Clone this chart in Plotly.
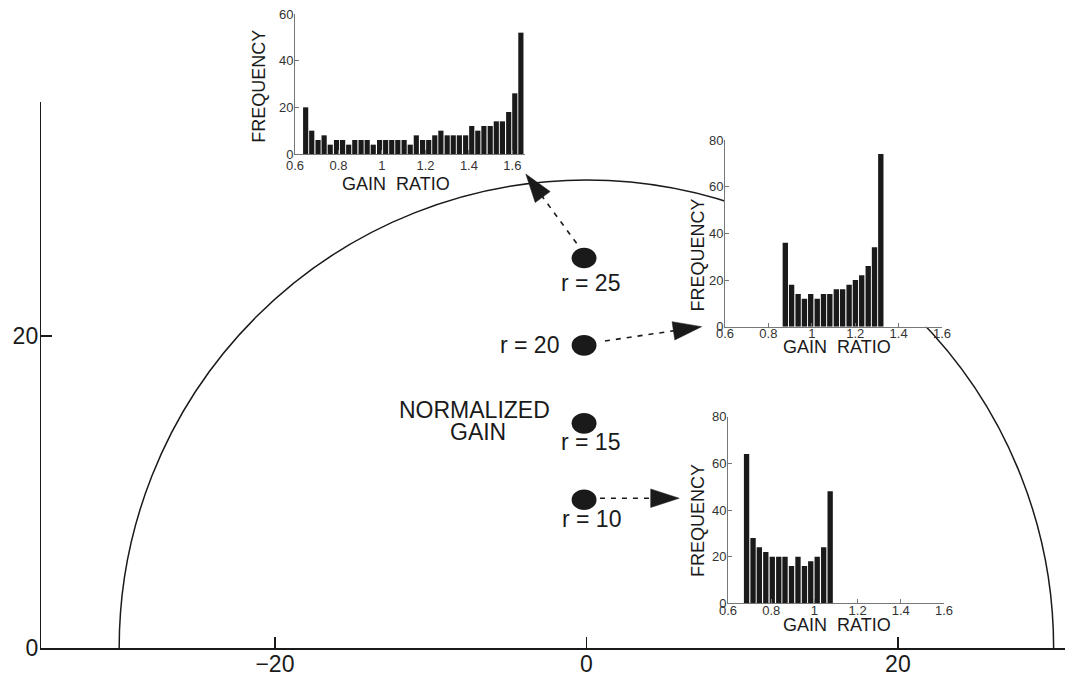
import plotly.graph_objects as go

W, H = 1065, 677
FONT = "Liberation Sans, Arial, Helvetica, sans-serif"
INK = "#1a1a1a"

# ---------------- data ----------------
main_x_ticks = [-20, 0, 20]
main_y_ticks = [0, 20]
circle_radius = 30

dot_labels = ["r = 25", "r = 20", "r = 15", "r = 10"]
dot_x = [-0.15, -0.15, -0.15, -0.15]
dot_y = [25.0, 19.4, 14.4, 9.5]

# dashed arrows (start -> tip), main-axis units
arrow_x0 = [-0.63, 1.19, 0.87]
arrow_y0 = [25.94, 19.68, 9.60]
arrow_x1 = [-3.89, 7.40, 5.96]
arrow_y1 = [30.38, 20.60, 9.60]

gain_ticks = [0.6, 0.8, 1.0, 1.2, 1.4, 1.6]

r25_centers = [0.649, 0.677, 0.706, 0.734, 0.762, 0.791, 0.819, 0.847, 0.875,
               0.904, 0.932, 0.960, 0.989, 1.017, 1.045, 1.073, 1.102, 1.130,
               1.158, 1.187, 1.215, 1.243, 1.271, 1.300, 1.328, 1.356, 1.385,
               1.413, 1.441, 1.469, 1.498, 1.526, 1.554, 1.583, 1.611, 1.639]
r25_counts = [20, 10, 6, 8, 4, 6, 6, 4, 6, 6, 6, 4, 6, 6, 6, 6, 6, 4,
              8, 6, 6, 8, 10, 8, 8, 8, 8, 12, 10, 12, 12, 14, 14, 18, 26, 52]

r20_centers = [0.878, 0.907, 0.937, 0.966, 0.995, 1.025, 1.054, 1.083,
               1.113, 1.142, 1.172, 1.201, 1.230, 1.260, 1.289, 1.318]
r20_counts = [36, 18, 14, 12, 14, 12, 14, 14, 16, 16, 18, 20, 22, 26, 34, 74]

r10_centers = [0.686, 0.716, 0.745, 0.775, 0.805, 0.835, 0.864,
               0.894, 0.924, 0.954, 0.983, 1.013, 1.043, 1.073]
r10_counts = [64, 28, 24, 22, 20, 20, 20, 16, 20, 16, 18, 20, 24, 48]


def px(x):
    return x / W


def py(y):
    return 1 - y / H


fig = go.Figure()

# ---------------- arrows ----------------
for i in range(len(arrow_x0)):
    fig.add_trace(go.Scatter(
        x=[arrow_x0[i], arrow_x1[i]], y=[arrow_y0[i], arrow_y1[i]],
        xaxis="x", yaxis="y", mode="lines+markers",
        line=dict(color=INK, width=1.6, dash="5px,6px"),
        marker=dict(symbol="arrow", size=[0, 30], angleref="previous",
                    color=INK, opacity=1, line=dict(width=0.5, color=INK)),
        opacity=1, hoverinfo="skip", showlegend=False))

# ---------------- histograms ----------------
insets = [
    ("x2", "y2", r25_centers, r25_counts),
    ("x3", "y3", r20_centers, r20_counts),
    ("x4", "y4", r10_centers, r10_counts),
]
for xa, ya, c, v in insets:
    fig.add_trace(go.Bar(x=c, y=v, xaxis=xa, yaxis=ya,
                         marker=dict(color=INK, line=dict(width=0)),
                         hoverinfo="skip", showlegend=False))

# ---------------- axes ----------------
main_ax = dict(showline=True, linecolor=INK, linewidth=1.5, ticks="inside",
               ticklen=11, tickwidth=1.5, tickcolor=INK, showgrid=False,
               zeroline=False, tickfont=dict(family=FONT, size=23, color=INK),
               fixedrange=True, automargin=False)
inset_ax = dict(showline=True, linecolor="#777", linewidth=1, ticks="inside",
                ticklen=4, tickwidth=1, tickcolor="#777", showgrid=False,
                zeroline=False, tickfont=dict(family=FONT, size=13, color="#333"),
                fixedrange=True, automargin=False)
inset_x = dict(inset_ax, ticklabelstandoff=-5, tickvals=gain_ticks)
inset_y = dict(inset_ax, ticklabelstandoff=-2)

layout = dict(
    template="none",
    width=W, height=H, margin=dict(l=0, r=0, t=0, b=0, pad=0, autoexpand=False),
    paper_bgcolor="white", plot_bgcolor="white", bargap=0.15,
    showlegend=False,
    xaxis=dict(main_ax, domain=[px(41.3), 1], range=[-35, 30.73],
               tickvals=main_x_ticks, anchor="y", ticklabelstandoff=-5),
    yaxis=dict(main_ax, domain=[py(648), py(102)], range=[0, 35],
               tickvals=main_y_ticks, anchor="x", ticklabelstandoff=-3),
    xaxis2=dict(inset_x, domain=[px(295), px(525)], range=[0.6, 1.658],
                anchor="y2", ticklabelstandoff=-1),
    yaxis2=dict(inset_y, domain=[py(154), py(14)], range=[0, 60],
                tickvals=[0, 20, 40, 60], anchor="x2"),
    xaxis3=dict(inset_x, domain=[px(725), px(942)], range=[0.6, 1.6],
                anchor="y3"),
    yaxis3=dict(inset_y, domain=[py(326.7), py(140)], range=[0, 80],
                tickvals=[0, 20, 40, 60, 80], anchor="x3"),
    xaxis4=dict(inset_x, domain=[px(728), px(944)], range=[0.6, 1.6],
                anchor="y4"),
    yaxis4=dict(inset_y, domain=[py(603.3), py(416.7)], range=[0, 80],
                tickvals=[0, 20, 40, 60, 80], anchor="x4"),
)
fig.update_layout(**layout)

# ---------------- shapes ----------------
shapes = [dict(type="circle", xref="x", yref="y",
               x0=-circle_radius, x1=circle_radius,
               y0=-circle_radius, y1=circle_radius,
               line=dict(color=INK, width=1.5), layer="below")]
# white backgrounds of the insets (hide the arc behind them)
shapes.append(dict(type="rect", xref="x3", yref="y3", x0=0.6, x1=1.6, y0=0, y1=80,
                   fillcolor="white", line=dict(width=0), layer="below"))
for xc, yc in zip(dot_x, dot_y):
    shapes.append(dict(type="circle", xref="x", yref="y",
                       x0=xc - 0.8, x1=xc + 0.8, y0=yc - 0.66, y1=yc + 0.66,
                       fillcolor=INK, line=dict(width=0), layer="above"))
fig.update_layout(shapes=shapes)

# ---------------- text ----------------
ann = []


def txt(t, x, y, size, angle=0):
    ann.append(dict(text=t, x=px(x), y=py(y), xref="paper", yref="paper",
                    xanchor="center", yanchor="middle", showarrow=False,
                    textangle=angle,
                    font=dict(family=FONT, size=size, color=INK)))


label_pos = [(590, 283), (529, 345), (590, 442), (591, 519)]
for lab, (lx, ly) in zip(dot_labels, label_pos):
    txt(lab, lx, ly, 23)
txt("NORMALIZED", 474.5, 409.5, 23)
txt("GAIN", 478, 432, 23)

gain_title = "GAIN\u00a0\u00a0RATIO"
for (fx, fy), (gx, gy) in [((259, 86.7), (395.8, 184)),
                           ((697.5, 255), (836.7, 347)),
                           ((698, 521), (836.7, 625))]:
    txt("FREQUENCY", fx, fy, 18, -90)
    txt(gain_title, gx, gy, 18)

fig.update_layout(annotations=ann)

fig.write_html("out.html",
               config={"displayModeBar": False, "staticPlot": True},
               post_script="document.body.style.margin='0';"
                           "document.body.style.overflow='hidden';")
